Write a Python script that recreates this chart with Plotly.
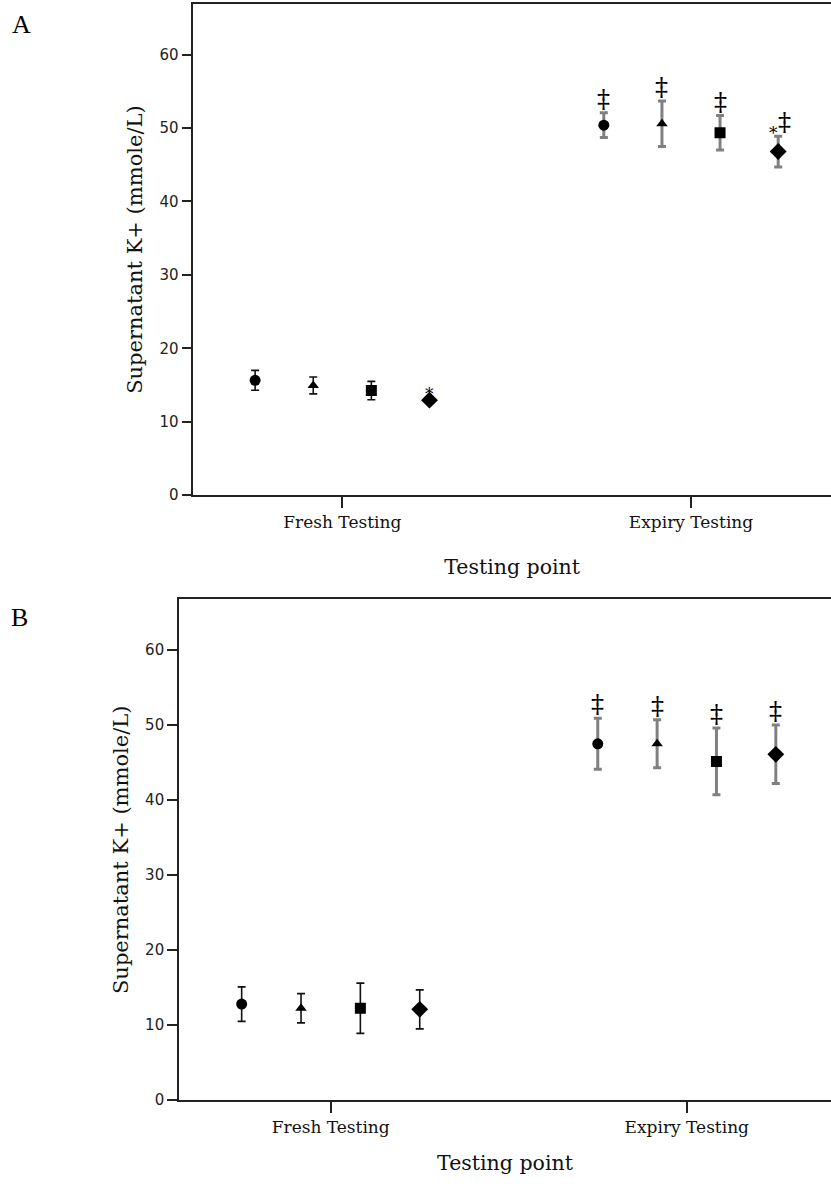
import plotly.graph_objects as go

# Testing points and the four groups compared at each point
testing_points = ["Fresh Testing", "Expiry Testing"]
group_symbols = ["circle", "triangle-up", "square", "diamond"]

# Panel A: mean supernatant K+ (mmol/L) and error half-widths, per group [fresh, expiry]
a_mean = [[15.65, 50.4], [14.95, 50.6], [14.25, 49.35], [12.95, 46.8]]
a_err = [[1.35, 1.7], [1.15, 3.1], [1.25, 2.35], [0.4, 2.1]]
a_star = [["", ""], ["", ""], ["", ""], ["*", "*"]]
a_dagger = [["", "‡"], ["", "‡"], ["", "‡"], ["", "‡"]]

# Panel B
b_mean = [[12.8, 47.5], [12.25, 47.5], [12.25, 45.15], [12.1, 46.1]]
b_err = [[2.3, 3.4], [1.95, 3.2], [3.35, 4.45], [2.6, 3.9]]
b_star = [["", ""], ["", ""], ["", ""], ["", ""]]
b_dagger = [["", "‡"], ["", "‡"], ["", "‡"], ["", "‡"]]

y_title = "Supernatant K+ (mmole/L)"
x_title = "Testing point"

W, H = 831, 1193
offsets = [-0.25, -0.0833, 0.0833, 0.25]
sizes = {"circle": 11, "triangle-up": 10, "square": 11, "diamond": 13}

serif = "DejaVu Serif, serif"
label_serif = "Liberation Serif, Times New Roman, serif"
sans = "DejaVu Sans, Tahoma, sans-serif"

fig = go.Figure()
annotations = []


def add_panel(mean, err, star, dagger, xa, ya):
    for g, sym in enumerate(group_symbols):
        for t in range(len(testing_points)):
            expiry = t == 1
            x = t + 1 + offsets[g]
            fig.add_trace(go.Scatter(
                x=[x], y=[mean[g][t]], mode="markers",
                xaxis=xa, yaxis=ya, showlegend=False,
                marker=dict(symbol=sym, size=sizes[sym], color="black"),
                error_y=dict(type="data", array=[err[g][t]], visible=True,
                             color="#808080" if expiry else "#111111",
                             thickness=3 if expiry else 1.6,
                             width=4),
            ))
            top = mean[g][t] + err[g][t]
            if dagger[g][t]:
                annotations.append(dict(
                    x=x, y=top, xref=xa, yref=ya, text=dagger[g][t],
                    showarrow=False, yanchor="bottom",
                    xshift=6 if star[g][t] else 0, yshift=-3,
                    font=dict(family=serif, size=26, color="black")))
            if star[g][t]:
                annotations.append(dict(
                    x=x, y=top if expiry else mean[g][t], xref=xa, yref=ya,
                    text=star[g][t], showarrow=False, yanchor="bottom",
                    xshift=-5 if dagger[g][t] else 0,
                    yshift=-9 if expiry else -6,
                    font=dict(family=serif, size=17, color="black")))


add_panel(a_mean, a_err, a_star, a_dagger, "x", "y")
add_panel(b_mean, b_err, b_star, b_dagger, "x2", "y2")

axis_line = dict(showline=True, linecolor="#222222", linewidth=1.6,
                 showgrid=False, zeroline=False, ticks="outside",
                 tickcolor="#222222", tickwidth=1.6)

xcommon = dict(axis_line, tickvals=[1, 2], ticktext=testing_points, ticklen=11,
               mirror=True,
               tickfont=dict(family=serif, size=17, color="#111111"))
ycommon = dict(axis_line, tickvals=[0, 10, 20, 30, 40, 50, 60], ticklen=10,
               tickfont=dict(family=sans, size=15, color="#222222"),
               title=dict(text=y_title, font=dict(family=serif, size=21, color="#111111"),
                          standoff=11))
xtitle_font = dict(family=serif, size=20.5, color="#111111")

fig.update_layout(
    width=W, height=H,
    margin=dict(l=0, r=0, t=0, b=0),
    paper_bgcolor="white", plot_bgcolor="white",
    xaxis=dict(xcommon, domain=[193.3 / W, 1], range=[0.5727, 2.4015], anchor="y",
               title=dict(text=x_title, font=xtitle_font, standoff=28)),
    yaxis=dict(ycommon, domain=[1 - 499 / H, 1 - 4 / H], range=[0, 66.9], anchor="x"),
    xaxis2=dict(xcommon, domain=[179 / W, 1], range=[0.574, 2.405], anchor="y2",
                title=dict(text=x_title, font=xtitle_font, standoff=19)),
    yaxis2=dict(ycommon, domain=[1 - 1108.5 / H, 1 - 604 / H], range=[0, 66.75], anchor="x2"),
    annotations=annotations + [
        dict(x=10 / W, y=1 - 8 / H, xref="paper", yref="paper", text="A",
             showarrow=False, xanchor="left", yanchor="top",
             font=dict(family=label_serif, size=26, color="black")),
        dict(x=9 / W, y=1 - 606 / H, xref="paper", yref="paper", text="B",
             showarrow=False, xanchor="left", yanchor="top",
             font=dict(family=label_serif, size=26, color="black")),
    ],
)

fig.write_html("out.html")
